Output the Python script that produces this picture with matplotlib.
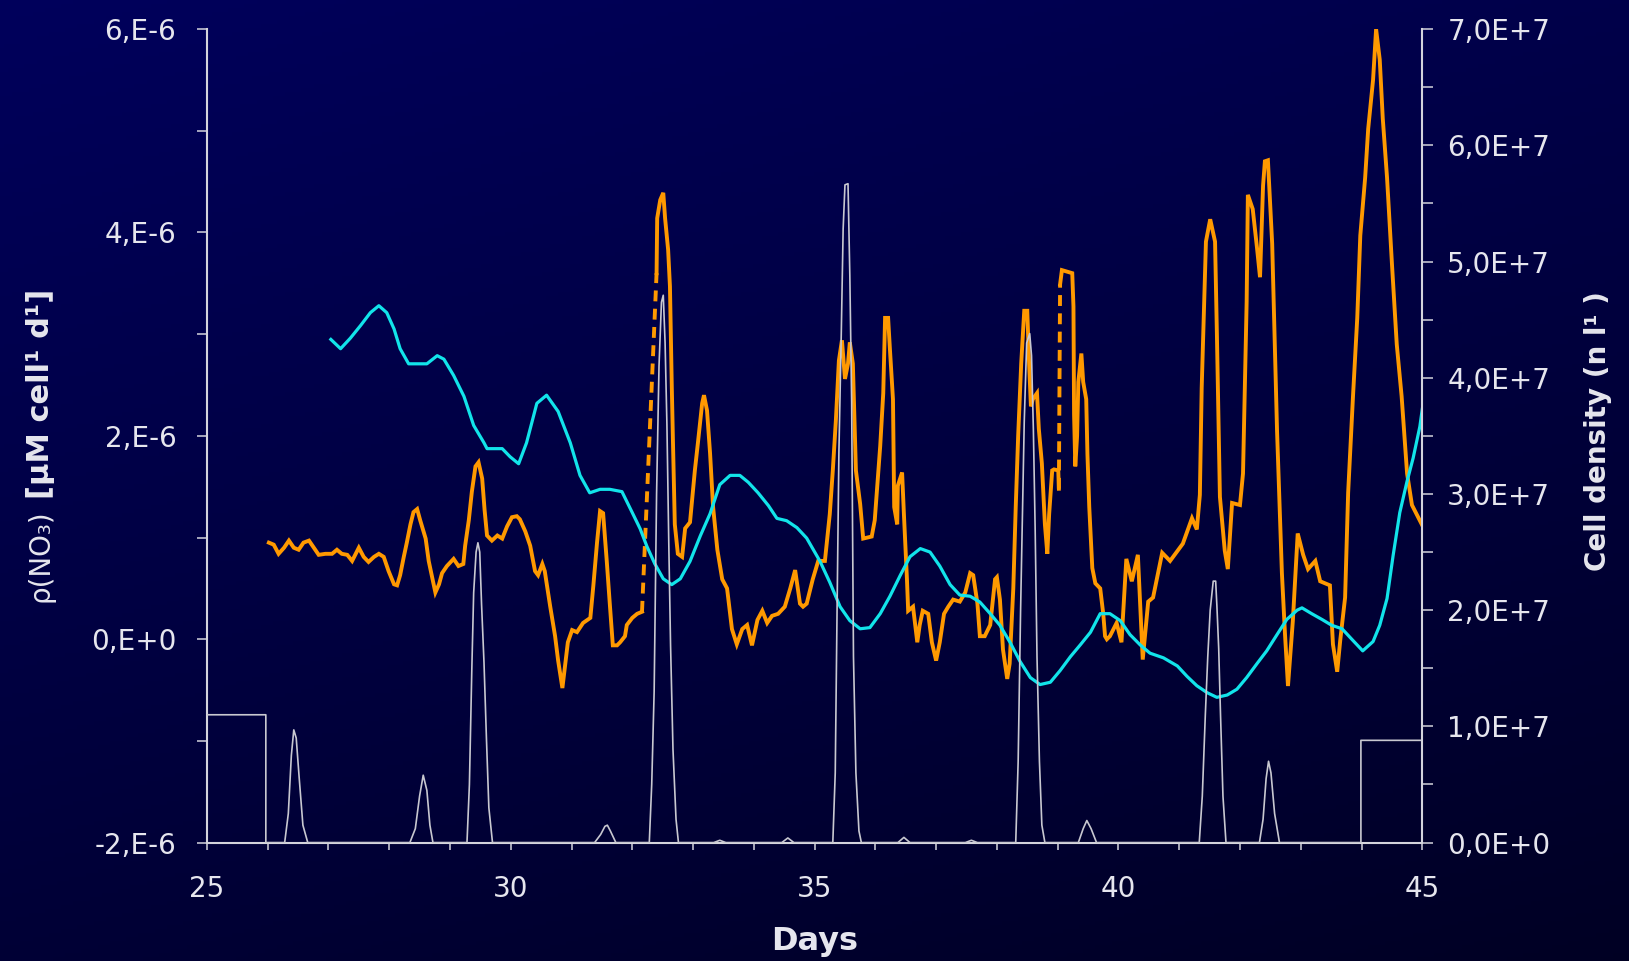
import numpy as np
import matplotlib
matplotlib.use("Agg")
import matplotlib.pyplot as plt
from matplotlib.ticker import FixedLocator, FixedFormatter, MultipleLocator, NullFormatter

plt.rcParams['font.family'] = ['DejaVu Sans']

# ---------------------------------------------------------------------------
# Nitrate uptake rate rho(NO3), in 1e-6 uM cell^-1 d^-1 (left axis)
# ---------------------------------------------------------------------------
nitrate_days = [
    26.02, 26.10, 26.18, 26.27, 26.35, 26.43, 26.51, 26.59, 26.68, 26.76,
    26.84, 26.95, 27.06, 27.14, 27.22, 27.31, 27.39, 27.50, 27.58, 27.66,
    27.75, 27.83, 27.91, 27.99, 28.08, 28.13, 28.18, 28.24, 28.29, 28.35,
    28.40, 28.46, 28.51, 28.60, 28.65, 28.71, 28.76, 28.82, 28.87, 28.95,
    29.06, 29.14, 29.22, 29.25, 29.31, 29.36, 29.42, 29.47, 29.53, 29.57,
    29.61, 29.69, 29.78, 29.86, 29.94, 30.02, 30.10, 30.15, 30.24, 30.32,
    30.40, 30.45, 30.52, 30.56, 30.65, 30.73, 30.78, 30.85, 30.89, 30.94,
    31.01, 31.09, 31.19, 31.31, 31.36, 31.42, 31.47, 31.52, 31.58, 31.63,
    31.68, 31.75, 31.80, 31.88, 31.91, 32.00, 32.08, 32.16,
    32.40, 32.41, 32.46, 32.51, 32.54, 32.59, 32.62, 32.65, 32.67, 32.70,
    32.75, 32.82, 32.87, 32.95, 33.03, 33.08, 33.15, 33.18, 33.23, 33.28,
    33.33, 33.40, 33.48, 33.56, 33.64, 33.72, 33.81, 33.89, 33.97, 34.06,
    34.14, 34.22, 34.30, 34.40, 34.51, 34.60, 34.68, 34.76, 34.81, 34.87,
    34.97, 35.06, 35.17, 35.25, 35.30, 35.35, 35.40, 35.45, 35.50, 35.55,
    35.58, 35.63, 35.68, 35.75, 35.80, 35.94, 35.99, 36.08, 36.13, 36.16,
    36.21, 36.24, 36.29, 36.31, 36.36, 36.37, 36.44, 36.47, 36.52, 36.54,
    36.62, 36.69, 36.73, 36.78, 36.87, 36.93, 37.00, 37.06, 37.13, 37.20,
    37.28, 37.39, 37.48, 37.56, 37.61, 37.68, 37.72, 37.80, 37.89, 37.97,
    38.00, 38.05, 38.10, 38.17, 38.21, 38.27, 38.31, 38.35, 38.40, 38.45,
    38.50, 38.53, 38.56, 38.59, 38.66, 38.69, 38.74, 38.79, 38.83, 38.86,
    38.91, 38.94, 39.01, 39.02,
    39.04, 39.07, 39.24, 39.26, 39.27, 39.29, 39.32, 39.34, 39.39, 39.42,
    39.47, 39.49, 39.52, 39.57, 39.62, 39.70, 39.75, 39.78, 39.81, 39.86,
    39.97, 40.05, 40.13, 40.22, 40.32, 40.40, 40.49, 40.57, 40.72, 40.85,
    41.06, 41.21, 41.29, 41.34, 41.37, 41.44, 41.51, 41.59, 41.62, 41.67,
    41.75, 41.80, 41.87, 42.00, 42.05, 42.11, 42.13, 42.21, 42.28, 42.33,
    42.38, 42.41, 42.46, 42.53, 42.61, 42.69, 42.74, 42.79, 42.87, 42.95,
    43.04, 43.12, 43.24, 43.32, 43.48, 43.53, 43.60, 43.65, 43.73, 43.78,
    43.86, 43.93, 43.98, 44.06, 44.11, 44.19, 44.24, 44.30, 44.35, 44.42,
    44.50, 44.58, 44.66, 44.75, 44.83, 45.00,
]
nitrate_rate = [
    0.95, 0.93, 0.84, 0.90, 0.97, 0.90, 0.88, 0.95, 0.97, 0.90,
    0.83, 0.84, 0.84, 0.88, 0.84, 0.83, 0.77, 0.90, 0.81, 0.76,
    0.81, 0.84, 0.81, 0.67, 0.54, 0.53, 0.63, 0.81, 0.95, 1.13,
    1.25, 1.28, 1.17, 0.99, 0.77, 0.60, 0.46, 0.54, 0.65, 0.72,
    0.79, 0.72, 0.74, 0.92, 1.17, 1.45, 1.70, 1.74, 1.58, 1.27,
    1.02, 0.97, 1.02, 0.99, 1.11, 1.20, 1.21, 1.18, 1.06, 0.92,
    0.67, 0.63, 0.74, 0.67, 0.32, 0.03, -0.21, -0.48, -0.28, -0.03,
    0.09, 0.07, 0.16, 0.21, 0.53, 0.95, 1.26, 1.24, 0.77, 0.35,
    -0.06, -0.06, -0.03, 0.03, 0.14, 0.21, 0.25, 0.27,
    3.60, 4.14, 4.32, 4.39, 4.14, 3.83, 3.47, 2.49, 1.93, 1.13,
    0.84, 0.81, 1.09, 1.15, 1.66, 1.93, 2.32, 2.40, 2.25, 1.83,
    1.30, 0.88, 0.59, 0.50, 0.10, -0.05, 0.10, 0.14, -0.06, 0.19,
    0.28, 0.16, 0.23, 0.25, 0.32, 0.50, 0.68, 0.35, 0.32, 0.35,
    0.59, 0.77, 0.77, 1.23, 1.66, 2.15, 2.74, 2.94, 2.56, 2.71,
    2.92, 2.71, 1.66, 1.33, 0.99, 1.01, 1.17, 1.90, 2.42, 3.16,
    3.16, 2.85, 2.36, 1.30, 1.13, 1.51, 1.64, 1.23, 0.59, 0.28,
    0.32, -0.03, 0.14, 0.28, 0.25, -0.03, -0.21, -0.03, 0.25, 0.32,
    0.39, 0.37, 0.46, 0.65, 0.63, 0.35, 0.03, 0.03, 0.14, 0.59,
    0.61, 0.39, -0.10, -0.39, -0.24, 0.50, 1.30, 2.00, 2.71, 3.23,
    3.23, 2.71, 2.29, 2.36, 2.42, 2.07, 1.73, 1.13, 0.84, 1.23,
    1.66, 1.67, 1.66, 1.48,
    3.49, 3.63, 3.60, 3.27, 2.21, 1.70, 2.00, 2.53, 2.81, 2.53,
    2.36, 1.82, 1.30, 0.70, 0.55, 0.50, 0.25, 0.03, 0.00, 0.03,
    0.16, -0.03, 0.79, 0.57, 0.83, -0.20, 0.37, 0.41, 0.85, 0.77,
    0.94, 1.19, 1.08, 1.42, 2.47, 3.91, 4.13, 3.91, 3.01, 1.40,
    0.87, 0.69, 1.34, 1.32, 1.63, 3.32, 4.37, 4.23, 3.85, 3.56,
    4.46, 4.70, 4.71, 3.89, 2.05, 0.65, 0.06, -0.46, 0.18, 1.04,
    0.83, 0.69, 0.77, 0.57, 0.53, -0.05, -0.32, -0.01, 0.41, 1.44,
    2.39, 3.16, 3.97, 4.54, 5.02, 5.50, 6.00, 5.70, 5.12, 4.54,
    3.70, 2.90, 2.39, 1.63, 1.32, 1.12,
]
# the record is interrupted after these days; the jumps are bridged by dashes
nitrate_gap_after = [32.16, 39.02]

# ---------------------------------------------------------------------------
# Cell density, in 1e7 cells per litre (right axis)
# ---------------------------------------------------------------------------
density_days = [
    27.04, 27.20, 27.36, 27.53, 27.69, 27.83, 27.96, 28.08, 28.18, 28.32,
    28.46, 28.62, 28.79, 28.90, 29.06, 29.23, 29.39, 29.56, 29.61, 29.86,
    29.99, 30.13, 30.26, 30.43, 30.59, 30.78, 30.98, 31.14, 31.30, 31.47,
    31.63, 31.83, 31.99, 32.13, 32.24, 32.37, 32.51, 32.65, 32.79, 32.95,
    33.12, 33.28, 33.44, 33.61, 33.77, 33.91, 34.07, 34.24, 34.38, 34.54,
    34.71, 34.87, 35.09, 35.25, 35.42, 35.58, 35.75, 35.91, 36.08, 36.24,
    36.41, 36.57, 36.74, 36.90, 37.06, 37.23, 37.39, 37.56, 37.72, 37.89,
    38.05, 38.22, 38.38, 38.55, 38.71, 38.88, 39.04, 39.21, 39.37, 39.54,
    39.70, 39.86, 40.03, 40.19, 40.36, 40.52, 40.74, 40.97, 41.13, 41.29,
    41.46, 41.62, 41.79, 41.95, 42.11, 42.28, 42.44, 42.61, 42.77, 42.94,
    43.02, 43.18, 43.35, 43.51, 43.68, 43.84, 44.02, 44.19, 44.30, 44.42,
    44.52, 44.63, 44.75, 44.85, 44.96, 45.00,
]
cell_density = [
    4.33, 4.25, 4.34, 4.45, 4.56, 4.62, 4.56, 4.42, 4.25, 4.12,
    4.12, 4.12, 4.19, 4.16, 4.02, 3.84, 3.59, 3.44, 3.39, 3.39,
    3.32, 3.26, 3.44, 3.78, 3.85, 3.71, 3.44, 3.16, 3.01, 3.04,
    3.04, 3.02, 2.85, 2.70, 2.55, 2.40, 2.27, 2.22, 2.27, 2.42,
    2.64, 2.83, 3.08, 3.16, 3.16, 3.10, 3.01, 2.90, 2.79, 2.77,
    2.71, 2.62, 2.42, 2.24, 2.03, 1.91, 1.84, 1.85, 1.97, 2.12,
    2.30, 2.46, 2.53, 2.50, 2.38, 2.22, 2.13, 2.12, 2.07, 1.97,
    1.87, 1.72, 1.56, 1.42, 1.36, 1.38, 1.48, 1.60, 1.70, 1.81,
    1.97, 1.97, 1.91, 1.79, 1.70, 1.63, 1.59, 1.52, 1.43, 1.35,
    1.29, 1.25, 1.27, 1.32, 1.42, 1.54, 1.65, 1.79, 1.92, 2.00,
    2.02, 1.97, 1.92, 1.87, 1.84, 1.75, 1.65, 1.73, 1.87, 2.10,
    2.47, 2.84, 3.11, 3.31, 3.58, 3.73,
]

# ---------------------------------------------------------------------------
# Pulse trace (grey), in the right-axis units
# ---------------------------------------------------------------------------
pulse_days = [
    25.00, 25.97, 25.97,
    26.28, 26.34, 26.39, 26.43, 26.47, 26.52, 26.58, 26.66,
    28.34, 28.43, 28.50, 28.56, 28.62, 28.67, 28.72,
    29.28, 29.32, 29.36, 29.39, 29.43, 29.46, 29.49, 29.52, 29.56, 29.60, 29.64, 29.70,
    31.38, 31.48, 31.55, 31.59, 31.64, 31.73,
    32.28, 32.32, 32.36, 32.40, 32.44, 32.48, 32.51, 32.54, 32.57, 32.60, 32.63, 32.67, 32.72, 32.76,
    33.34, 33.44, 33.54,
    34.46, 34.56, 34.66,
    35.30, 35.34, 35.37, 35.40, 35.44, 35.47, 35.50, 35.55, 35.58, 35.61, 35.64, 35.68, 35.73, 35.77,
    36.37, 36.47, 36.57,
    37.48, 37.58, 37.68,
    38.31, 38.35, 38.39, 38.42, 38.45, 38.49, 38.54, 38.57, 38.60, 38.63, 38.66, 38.70, 38.74, 38.79,
    39.34, 39.42, 39.48, 39.55, 39.64,
    41.33, 41.38, 41.43, 41.47, 41.51, 41.56, 41.60, 41.62, 41.65, 41.68, 41.72, 41.77,
    42.32, 42.38, 42.43, 42.47, 42.51, 42.57, 42.65,
    43.99, 43.99, 45.00,
]
pulse_signal = [
    1.10, 1.10, 0.00,
    0.00, 0.25, 0.75, 0.97, 0.90, 0.55, 0.15, 0.00,
    0.00, 0.12, 0.40, 0.58, 0.45, 0.15, 0.00,
    0.00, 0.50, 1.50, 2.15, 2.50, 2.58, 2.50, 2.05, 1.55, 0.90, 0.30, 0.00,
    0.00, 0.07, 0.14, 0.15, 0.10, 0.00,
    0.00, 0.50, 1.30, 3.00, 4.10, 4.65, 4.71, 4.30, 3.60, 2.60, 1.70, 0.80, 0.20, 0.00,
    0.00, 0.02, 0.00,
    0.00, 0.04, 0.00,
    0.00, 0.60, 2.00, 3.35, 4.40, 5.28, 5.66, 5.67, 4.88, 3.79, 1.60, 0.60, 0.10, 0.00,
    0.00, 0.045, 0.00,
    0.00, 0.02, 0.00,
    0.00, 0.70, 2.00, 2.81, 3.62, 4.30, 4.38, 4.19, 3.56, 2.69, 1.60, 0.70, 0.15, 0.00,
    0.00, 0.12, 0.19, 0.12, 0.00,
    0.00, 0.40, 1.10, 1.60, 2.00, 2.25, 2.25, 2.04, 1.67, 1.10, 0.40, 0.00,
    0.00, 0.20, 0.55, 0.70, 0.60, 0.25, 0.00,
    0.00, 0.88, 0.88,
]

# ---------------------------------------------------------------------------
# Tick values and labels
# ---------------------------------------------------------------------------
x_tick_values = [25, 30, 35, 40, 45]
x_tick_labels = ['25', '30', '35', '40', '45']
left_tick_values = [-2e-6, 0.0, 2e-6, 4e-6, 6e-6]
left_tick_labels = ['-2,E-6', '0,E+0', '2,E-6', '4,E-6', '6,E-6']
right_tick_values = [0, 1e7, 2e7, 3e7, 4e7, 5e7, 6e7, 7e7]
right_tick_labels = ['0,0E+0', '1,0E+7', '2,0E+7', '3,0E+7',
                     '4,0E+7', '5,0E+7', '6,0E+7', '7,0E+7']

ORANGE = '#FF9900'
CYAN = '#12E4EA'
GREY = '#C8C8D0'
AXIS = '#D4D4DC'
TEXT = '#E6E6EE'

fig = plt.figure(figsize=(16.29, 9.61), dpi=100)

# dark blue backdrop, brighter towards the upper left
bg = fig.add_axes([0, 0, 1, 1], zorder=0)
yy, xx = np.mgrid[0:1:240j, 0:1:400j]
blue = 0.36 - 0.15 * yy - 0.07 * xx
backdrop = np.dstack([np.zeros_like(blue), np.zeros_like(blue), blue])
bg.imshow(backdrop, aspect='auto', extent=[0, 1, 0, 1], origin='upper')
bg.set_axis_off()

ax = fig.add_axes([0.1270, 0.1232, 0.7461, 0.8465], zorder=1)
ax.patch.set_visible(False)
ax2 = ax.twinx()
ax2.set_zorder(2)
ax2.patch.set_visible(False)

# nitrate uptake: solid pieces, dashed bridges across the interruptions
days = np.asarray(nitrate_days)
rate = np.asarray(nitrate_rate) * 1e-6
breaks = [int(np.searchsorted(days, g, side='right')) for g in nitrate_gap_after]
bounds = [0] + breaks + [len(days)]
for a, b in zip(bounds[:-1], bounds[1:]):
    ax.plot(days[a:b], rate[a:b], color=ORANGE, lw=2.8, solid_joinstyle='miter')
for br in breaks:
    ax.plot(days[br - 1:br + 1], rate[br - 1:br + 1], color=ORANGE, lw=2.8,
            ls=(0, (2.8, 1.9)))

# cell density and pulse trace on the right-hand scale
ax2.plot(density_days, np.asarray(cell_density) * 1e7, color=CYAN, lw=2.3)
ax2.plot(pulse_days, np.asarray(pulse_signal) * 1e7, color=GREY, lw=1.2)

ax.set_xlim(25, 45)
ax.set_ylim(-2e-6, 6e-6)
ax2.set_ylim(0, 7e7)

for a in (ax, ax2):
    a.spines['top'].set_visible(False)
    for s in a.spines.values():
        s.set_color(AXIS)
        s.set_linewidth(1.5)
ax.spines['right'].set_visible(False)
ax2.spines['left'].set_visible(False)
ax2.spines['bottom'].set_visible(False)

ax.xaxis.set_major_locator(FixedLocator(x_tick_values))
ax.xaxis.set_major_formatter(FixedFormatter(x_tick_labels))
ax.xaxis.set_minor_locator(MultipleLocator(1))
ax.xaxis.set_minor_formatter(NullFormatter())
ax.tick_params(axis='x', which='both', direction='out', length=5, width=1.1,
               color=AXIS, labelsize=20, labelcolor=TEXT, pad=18)

ax.yaxis.set_major_locator(FixedLocator(left_tick_values))
ax.yaxis.set_major_formatter(FixedFormatter(left_tick_labels))
ax.yaxis.set_minor_locator(MultipleLocator(1e-6))
ax.yaxis.set_minor_formatter(NullFormatter())
ax.tick_params(axis='y', which='both', direction='out', length=7, width=1.1,
               color=AXIS, labelsize=20, labelcolor=TEXT, pad=15)

ax2.yaxis.set_major_locator(FixedLocator(right_tick_values))
ax2.yaxis.set_major_formatter(FixedFormatter(right_tick_labels))
ax2.yaxis.set_minor_locator(MultipleLocator(5e6))
ax2.yaxis.set_minor_formatter(NullFormatter())
ax2.tick_params(axis='y', which='both', direction='out', length=8, width=1.1,
                color=AXIS, labelsize=20, labelcolor=TEXT, pad=10)

# axis titles
fig.text(0.5000, 0.0198, 'Days', color=TEXT, fontsize=23, fontweight='bold',
         ha='center', va='center')
fig.text(0.0246, 1 - 509 / 961, 'ρ(NO₃)', color=TEXT, fontsize=20,
         rotation=90, rotation_mode='anchor', ha='right', va='center')
fig.text(0.0246, 1 - 499 / 961, '[µM cell¹ d¹]', color=TEXT, fontsize=22,
         fontweight='bold', rotation=90, rotation_mode='anchor',
         ha='left', va='center')
fig.text(0.981, 1 - 431 / 961, 'Cell density (n l¹ )', color=TEXT, fontsize=20,
         fontweight='bold', rotation=90, ha='center', va='center')

fig.savefig('out.png', dpi=100)
